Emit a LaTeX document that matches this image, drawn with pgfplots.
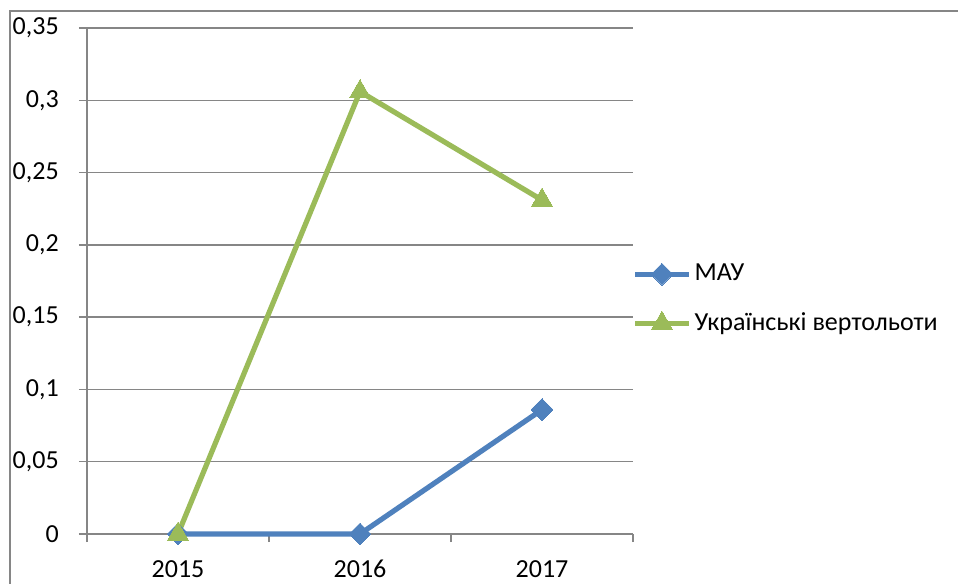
\documentclass[border=0pt]{standalone}
\usepackage{fontspec}
\setmainfont{Carlito}
\usepackage{pgfplots}
\pgfplotsset{compat=1.18}
\definecolor{mblue}{HTML}{4F81BD}
\definecolor{mgreen}{HTML}{9BBB59}
\definecolor{mgrid}{HTML}{868686}
\begin{document}
\fontsize{19.5}{23}\selectfont
\begin{tikzpicture}
\useasboundingbox (0,0) rectangle (718.5pt,437.25pt);
\draw[mgrid, line width=1.1pt] (7.5pt,-2pt) -- (7.5pt,429pt) -- (722pt,429pt);
\begin{axis}[
  at={(65.25pt,36.75pt)}, anchor=south west,
  scale only axis, width=409.5pt, height=379.5pt,
  xmin=-0.5, xmax=2.5, ymin=0, ymax=0.35,
  clip=false,
  axis x line*=bottom, axis y line*=left,
  axis line style={mgrid, line width=1.1pt, -},
  xtick={0,1,2}, xticklabels={2015,2016,2017},
  xtick style={draw=none},
  extra x ticks={-0.5,0.5,1.5,2.5}, extra x tick labels={},
  extra x tick style={grid=none, xtick style={draw=mgrid, line width=1.1pt}},
  ytick={0,0.05,0.1,0.15,0.2,0.25,0.3,0.35},
  yticklabels={0,{0,05},{0,1},{0,15},{0,2},{0,25},{0,3},{0,35}},
  ytick style={draw=mgrid, line width=1.1pt},
  tick align=outside, major tick length=6pt,
  ymajorgrids, grid style={mgrid, line width=1.1pt},
  ticklabel style={font=\fontsize{19.5}{23}\selectfont},
  yticklabel style={inner sep=0pt, xshift=-15pt},
  xticklabel style={inner sep=0pt, yshift=-13.5pt},
  legend style={at={(0.999,0.465)}, anchor=west, draw=none, fill=none,
    inner sep=0pt, row sep=19.5pt, nodes={inner sep=0pt},
    font=\fontsize{19.5}{23}\selectfont},
  legend cell align=left,
  legend image code/.code={\draw[#1, mark repeat=2, mark phase=2] plot coordinates {(0pt,0pt) (20pt,0pt) (40pt,0pt)};},
  /tikz/every odd column/.append style={column sep=2.5pt},
]
\addplot[mblue, line width=3.9pt, mark=square*, mark size=5.8pt, mark options={rotate=45, solid, line width=0pt}]
  coordinates {(0,0) (1,0) (2,0.086)};
\addlegendentry{МАУ}
\addplot[mgreen, line width=3.9pt, mark=triangle*, mark size=9pt, mark options={solid, line width=0pt}]
  coordinates {(0,0) (1,0.306) (2,0.231)};
\addlegendentry{Українські вертольоти}
\end{axis}
\end{tikzpicture}
\end{document}
